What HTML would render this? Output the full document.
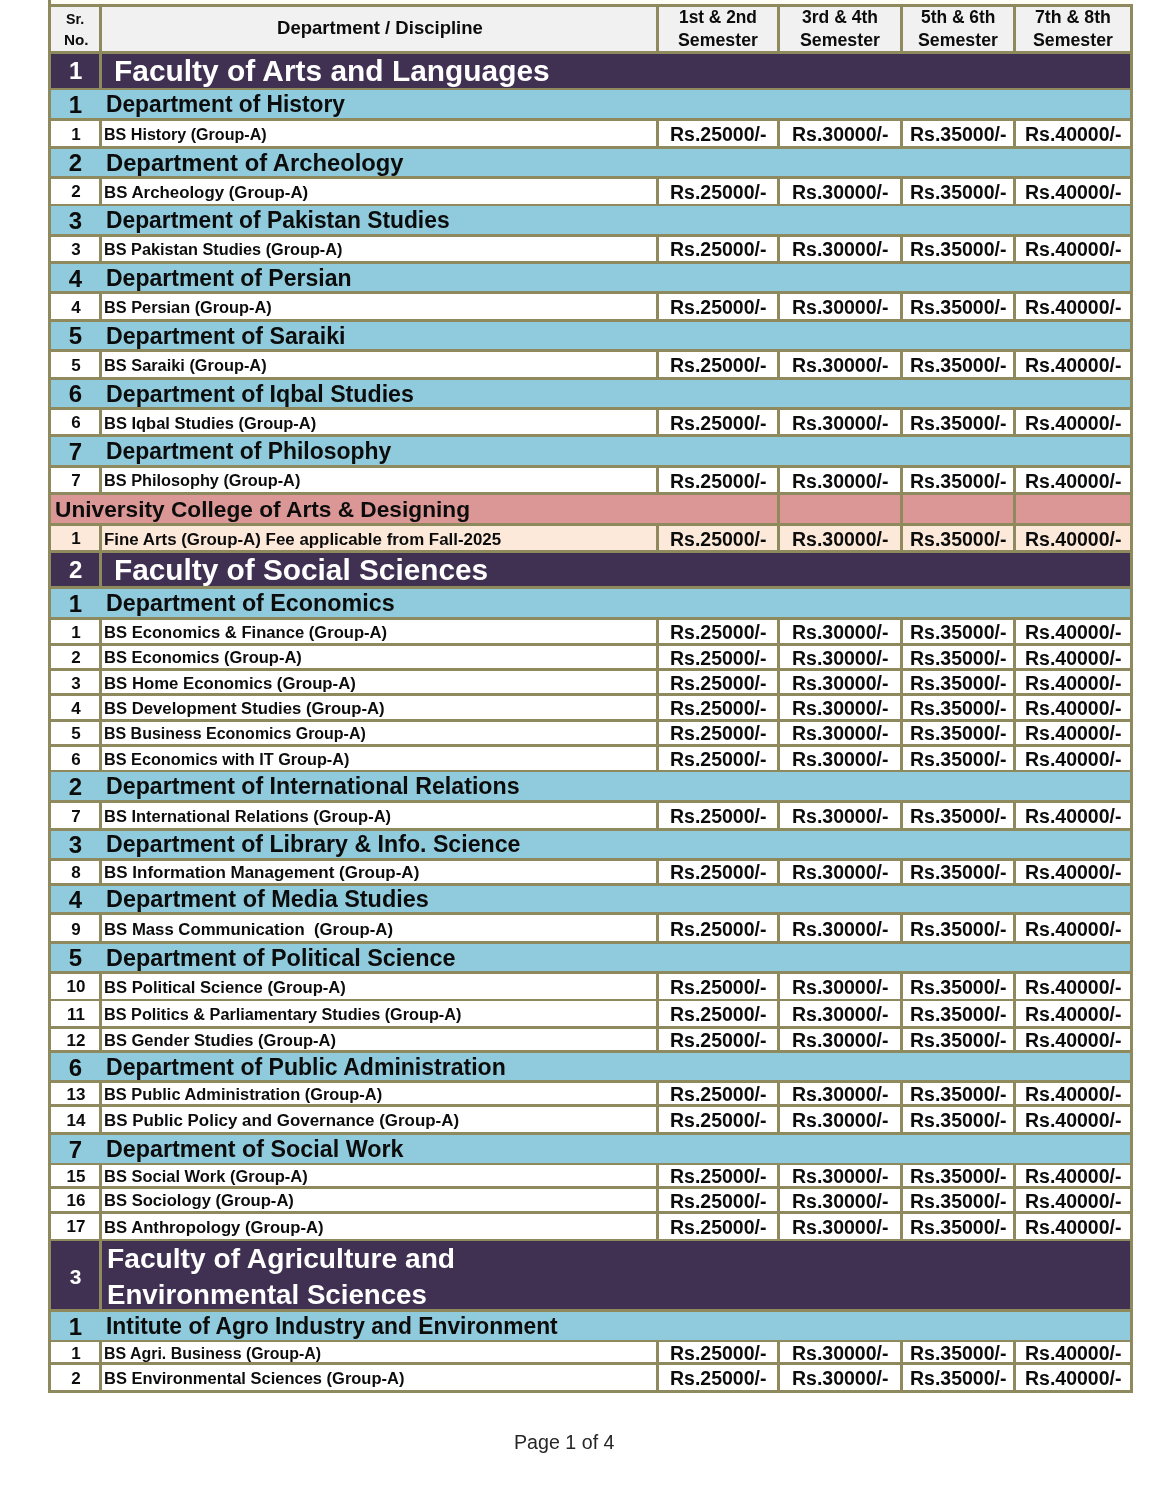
<!DOCTYPE html>
<html lang="en"><head><meta charset="utf-8"><title>Fee Structure - Page 1 of 4</title>
<style>
html,body{margin:0;padding:0;background:#fff}
#pg{position:relative;width:1170px;height:1489px;overflow:hidden;background:#fff;font-family:"Liberation Sans",sans-serif;font-weight:700}
.r{position:absolute}
.t{position:absolute;white-space:pre;transform-origin:0 50%}
</style></head><body><div id="pg">
<div class="r" style="left:51.15px;top:0.00px;width:1081.60px;height:5.20px;background:#fffef6"></div>
<div class="r" style="left:48.05px;top:3.65px;width:1084.90px;height:1389.20px;background:#8f8a5e"></div>
<div class="r" style="left:48.05px;top:0.00px;width:3.10px;height:5.20px;background:#8f8a5e"></div>
<div class="r" style="left:51.15px;top:6.65px;width:47.70px;height:44.20px;background:#f1f1f1"></div>
<div class="r" style="left:101.75px;top:6.65px;width:554.60px;height:44.20px;background:#f1f1f1"></div>
<div class="r" style="left:659.25px;top:6.65px;width:117.60px;height:44.20px;background:#f1f1f1"></div>
<div class="r" style="left:779.75px;top:6.65px;width:120.20px;height:44.20px;background:#f1f1f1"></div>
<div class="r" style="left:902.85px;top:6.65px;width:110.30px;height:44.20px;background:#f1f1f1"></div>
<div class="r" style="left:1016.05px;top:6.65px;width:113.80px;height:44.20px;background:#f1f1f1"></div>
<div class="t " style="left:66.10px;top:9.73px;font-size:15.5px;line-height:18.60px;color:#0c0c0c;transform:scaleX(0.9182)">Sr.</div>
<div class="t " style="left:63.50px;top:30.53px;font-size:15.5px;line-height:18.60px;color:#0c0c0c;transform:scaleX(0.9853)">No.</div>
<div class="t " style="left:276.50px;top:18.35px;font-size:17.7px;line-height:21.24px;color:#0c0c0c;transform:scaleX(1.0472)">Department / Discipline</div>
<div class="t " style="left:679.05px;top:7.15px;font-size:17.7px;line-height:21.24px;color:#0c0c0c;transform:scaleX(0.9791)">1st &amp; 2nd</div>
<div class="t " style="left:678.05px;top:30.35px;font-size:17.7px;line-height:21.24px;color:#0c0c0c;transform:scaleX(1.0037)">Semester</div>
<div class="t " style="left:801.85px;top:7.15px;font-size:17.7px;line-height:21.24px;color:#0c0c0c;transform:scaleX(0.9907)">3rd &amp; 4th</div>
<div class="t " style="left:799.85px;top:30.35px;font-size:17.7px;line-height:21.24px;color:#0c0c0c;transform:scaleX(1.0037)">Semester</div>
<div class="t " style="left:920.75px;top:7.15px;font-size:17.7px;line-height:21.24px;color:#0c0c0c;transform:scaleX(0.9839)">5th &amp; 6th</div>
<div class="t " style="left:918.00px;top:30.35px;font-size:17.7px;line-height:21.24px;color:#0c0c0c;transform:scaleX(1.0037)">Semester</div>
<div class="t " style="left:1034.95px;top:7.15px;font-size:17.7px;line-height:21.24px;color:#0c0c0c;transform:scaleX(1.0037)">7th &amp; 8th</div>
<div class="t " style="left:1032.95px;top:30.35px;font-size:17.7px;line-height:21.24px;color:#0c0c0c;transform:scaleX(1.0037)">Semester</div>
<div class="r" style="left:51.15px;top:53.75px;width:47.70px;height:33.80px;background:#403152"></div>
<div class="r" style="left:101.75px;top:53.75px;width:1028.10px;height:33.80px;background:#403152"></div>
<div class="t " style="left:68.93px;top:57.29px;font-size:24px;line-height:28.80px;color:#fff;transform:scaleX(1.0000)">1</div>
<div class="t " style="left:113.90px;top:53.40px;font-size:29.8px;line-height:35.76px;color:#fff;transform:scaleX(1.0031)">Faculty of Arts and Languages</div>
<div class="r" style="left:51.15px;top:90.45px;width:1078.70px;height:27.40px;background:#8fcbdc"></div>
<div class="t " style="left:68.63px;top:91.09px;font-size:24px;line-height:28.80px;color:#0c0c0c;transform:scaleX(1.0000)">1</div>
<div class="t " style="left:105.80px;top:91.39px;font-size:23px;line-height:27.60px;color:#0c0c0c;transform:scaleX(0.9895)">Department of History</div>
<div class="r" style="left:51.15px;top:120.75px;width:47.70px;height:25.10px;background:#ffffff"></div>
<div class="r" style="left:101.75px;top:120.75px;width:554.60px;height:25.10px;background:#ffffff"></div>
<div class="r" style="left:659.25px;top:120.75px;width:117.60px;height:25.10px;background:#ffffff"></div>
<div class="r" style="left:779.75px;top:120.75px;width:120.20px;height:25.10px;background:#ffffff"></div>
<div class="r" style="left:902.85px;top:120.75px;width:110.30px;height:25.10px;background:#ffffff"></div>
<div class="r" style="left:1016.05px;top:120.75px;width:113.80px;height:25.10px;background:#ffffff"></div>
<div class="t " style="left:71.27px;top:124.56px;font-size:17.0px;line-height:20.40px;color:#0c0c0c;transform:scaleX(1.0000)">1</div>
<div class="t " style="left:104.40px;top:124.76px;font-size:16.0px;line-height:19.20px;color:#0c0c0c;transform:scaleX(1.0051)">BS History (Group-A)</div>
<div class="t " style="left:670.10px;top:122.89px;font-size:19.6px;line-height:23.52px;color:#0c0c0c;transform:scaleX(0.9951)">Rs.25000/-</div>
<div class="t " style="left:791.90px;top:122.89px;font-size:19.6px;line-height:23.52px;color:#0c0c0c;transform:scaleX(0.9951)">Rs.30000/-</div>
<div class="t " style="left:910.05px;top:122.89px;font-size:19.6px;line-height:23.52px;color:#0c0c0c;transform:scaleX(0.9951)">Rs.35000/-</div>
<div class="t " style="left:1025.00px;top:122.89px;font-size:19.6px;line-height:23.52px;color:#0c0c0c;transform:scaleX(0.9951)">Rs.40000/-</div>
<div class="r" style="left:51.15px;top:148.75px;width:1078.70px;height:27.20px;background:#8fcbdc"></div>
<div class="t " style="left:68.63px;top:149.29px;font-size:24px;line-height:28.80px;color:#0c0c0c;transform:scaleX(1.0000)">2</div>
<div class="t " style="left:105.80px;top:149.59px;font-size:23px;line-height:27.60px;color:#0c0c0c;transform:scaleX(1.0331)">Department of Archeology</div>
<div class="r" style="left:51.15px;top:178.85px;width:47.70px;height:24.70px;background:#ffffff"></div>
<div class="r" style="left:101.75px;top:178.85px;width:554.60px;height:24.70px;background:#ffffff"></div>
<div class="r" style="left:659.25px;top:178.85px;width:117.60px;height:24.70px;background:#ffffff"></div>
<div class="r" style="left:779.75px;top:178.85px;width:120.20px;height:24.70px;background:#ffffff"></div>
<div class="r" style="left:902.85px;top:178.85px;width:110.30px;height:24.70px;background:#ffffff"></div>
<div class="r" style="left:1016.05px;top:178.85px;width:113.80px;height:24.70px;background:#ffffff"></div>
<div class="t " style="left:71.27px;top:182.46px;font-size:17.0px;line-height:20.40px;color:#0c0c0c;transform:scaleX(1.0000)">2</div>
<div class="t " style="left:104.40px;top:182.66px;font-size:16.0px;line-height:19.20px;color:#0c0c0c;transform:scaleX(1.0522)">BS Archeology (Group-A)</div>
<div class="t " style="left:670.10px;top:180.79px;font-size:19.6px;line-height:23.52px;color:#0c0c0c;transform:scaleX(0.9951)">Rs.25000/-</div>
<div class="t " style="left:791.90px;top:180.79px;font-size:19.6px;line-height:23.52px;color:#0c0c0c;transform:scaleX(0.9951)">Rs.30000/-</div>
<div class="t " style="left:910.05px;top:180.79px;font-size:19.6px;line-height:23.52px;color:#0c0c0c;transform:scaleX(0.9951)">Rs.35000/-</div>
<div class="t " style="left:1025.00px;top:180.79px;font-size:19.6px;line-height:23.52px;color:#0c0c0c;transform:scaleX(0.9951)">Rs.40000/-</div>
<div class="r" style="left:51.15px;top:206.45px;width:1078.70px;height:27.20px;background:#8fcbdc"></div>
<div class="t " style="left:68.63px;top:206.99px;font-size:24px;line-height:28.80px;color:#0c0c0c;transform:scaleX(1.0000)">3</div>
<div class="t " style="left:105.80px;top:207.29px;font-size:23px;line-height:27.60px;color:#0c0c0c;transform:scaleX(0.9920)">Department of Pakistan Studies</div>
<div class="r" style="left:51.15px;top:236.55px;width:47.70px;height:24.50px;background:#ffffff"></div>
<div class="r" style="left:101.75px;top:236.55px;width:554.60px;height:24.50px;background:#ffffff"></div>
<div class="r" style="left:659.25px;top:236.55px;width:117.60px;height:24.50px;background:#ffffff"></div>
<div class="r" style="left:779.75px;top:236.55px;width:120.20px;height:24.50px;background:#ffffff"></div>
<div class="r" style="left:902.85px;top:236.55px;width:110.30px;height:24.50px;background:#ffffff"></div>
<div class="r" style="left:1016.05px;top:236.55px;width:113.80px;height:24.50px;background:#ffffff"></div>
<div class="t " style="left:71.27px;top:240.06px;font-size:17.0px;line-height:20.40px;color:#0c0c0c;transform:scaleX(1.0000)">3</div>
<div class="t " style="left:104.40px;top:240.26px;font-size:16.0px;line-height:19.20px;color:#0c0c0c;transform:scaleX(1.0158)">BS Pakistan Studies (Group-A)</div>
<div class="t " style="left:670.10px;top:238.39px;font-size:19.6px;line-height:23.52px;color:#0c0c0c;transform:scaleX(0.9951)">Rs.25000/-</div>
<div class="t " style="left:791.90px;top:238.39px;font-size:19.6px;line-height:23.52px;color:#0c0c0c;transform:scaleX(0.9951)">Rs.30000/-</div>
<div class="t " style="left:910.05px;top:238.39px;font-size:19.6px;line-height:23.52px;color:#0c0c0c;transform:scaleX(0.9951)">Rs.35000/-</div>
<div class="t " style="left:1025.00px;top:238.39px;font-size:19.6px;line-height:23.52px;color:#0c0c0c;transform:scaleX(0.9951)">Rs.40000/-</div>
<div class="r" style="left:51.15px;top:263.95px;width:1078.70px;height:27.50px;background:#8fcbdc"></div>
<div class="t " style="left:68.63px;top:264.64px;font-size:24px;line-height:28.80px;color:#0c0c0c;transform:scaleX(1.0000)">4</div>
<div class="t " style="left:105.80px;top:264.94px;font-size:23px;line-height:27.60px;color:#0c0c0c;transform:scaleX(1.0004)">Department of Persian</div>
<div class="r" style="left:51.15px;top:294.35px;width:47.70px;height:24.40px;background:#ffffff"></div>
<div class="r" style="left:101.75px;top:294.35px;width:554.60px;height:24.40px;background:#ffffff"></div>
<div class="r" style="left:659.25px;top:294.35px;width:117.60px;height:24.40px;background:#ffffff"></div>
<div class="r" style="left:779.75px;top:294.35px;width:120.20px;height:24.40px;background:#ffffff"></div>
<div class="r" style="left:902.85px;top:294.35px;width:110.30px;height:24.40px;background:#ffffff"></div>
<div class="r" style="left:1016.05px;top:294.35px;width:113.80px;height:24.40px;background:#ffffff"></div>
<div class="t " style="left:71.27px;top:297.81px;font-size:17.0px;line-height:20.40px;color:#0c0c0c;transform:scaleX(1.0000)">4</div>
<div class="t " style="left:104.40px;top:298.01px;font-size:16.0px;line-height:19.20px;color:#0c0c0c;transform:scaleX(1.0191)">BS Persian (Group-A)</div>
<div class="t " style="left:670.10px;top:296.14px;font-size:19.6px;line-height:23.52px;color:#0c0c0c;transform:scaleX(0.9951)">Rs.25000/-</div>
<div class="t " style="left:791.90px;top:296.14px;font-size:19.6px;line-height:23.52px;color:#0c0c0c;transform:scaleX(0.9951)">Rs.30000/-</div>
<div class="t " style="left:910.05px;top:296.14px;font-size:19.6px;line-height:23.52px;color:#0c0c0c;transform:scaleX(0.9951)">Rs.35000/-</div>
<div class="t " style="left:1025.00px;top:296.14px;font-size:19.6px;line-height:23.52px;color:#0c0c0c;transform:scaleX(0.9951)">Rs.40000/-</div>
<div class="r" style="left:51.15px;top:321.65px;width:1078.70px;height:27.60px;background:#8fcbdc"></div>
<div class="t " style="left:68.63px;top:322.39px;font-size:24px;line-height:28.80px;color:#0c0c0c;transform:scaleX(1.0000)">5</div>
<div class="t " style="left:105.80px;top:322.69px;font-size:23px;line-height:27.60px;color:#0c0c0c;transform:scaleX(1.0074)">Department of Saraiki</div>
<div class="r" style="left:51.15px;top:352.15px;width:47.70px;height:24.50px;background:#ffffff"></div>
<div class="r" style="left:101.75px;top:352.15px;width:554.60px;height:24.50px;background:#ffffff"></div>
<div class="r" style="left:659.25px;top:352.15px;width:117.60px;height:24.50px;background:#ffffff"></div>
<div class="r" style="left:779.75px;top:352.15px;width:120.20px;height:24.50px;background:#ffffff"></div>
<div class="r" style="left:902.85px;top:352.15px;width:110.30px;height:24.50px;background:#ffffff"></div>
<div class="r" style="left:1016.05px;top:352.15px;width:113.80px;height:24.50px;background:#ffffff"></div>
<div class="t " style="left:71.27px;top:355.66px;font-size:17.0px;line-height:20.40px;color:#0c0c0c;transform:scaleX(1.0000)">5</div>
<div class="t " style="left:104.40px;top:355.86px;font-size:16.0px;line-height:19.20px;color:#0c0c0c;transform:scaleX(1.0218)">BS Saraiki (Group-A)</div>
<div class="t " style="left:670.10px;top:353.99px;font-size:19.6px;line-height:23.52px;color:#0c0c0c;transform:scaleX(0.9951)">Rs.25000/-</div>
<div class="t " style="left:791.90px;top:353.99px;font-size:19.6px;line-height:23.52px;color:#0c0c0c;transform:scaleX(0.9951)">Rs.30000/-</div>
<div class="t " style="left:910.05px;top:353.99px;font-size:19.6px;line-height:23.52px;color:#0c0c0c;transform:scaleX(0.9951)">Rs.35000/-</div>
<div class="t " style="left:1025.00px;top:353.99px;font-size:19.6px;line-height:23.52px;color:#0c0c0c;transform:scaleX(0.9951)">Rs.40000/-</div>
<div class="r" style="left:51.15px;top:379.55px;width:1078.70px;height:27.50px;background:#8fcbdc"></div>
<div class="t " style="left:68.63px;top:380.24px;font-size:24px;line-height:28.80px;color:#0c0c0c;transform:scaleX(1.0000)">6</div>
<div class="t " style="left:105.80px;top:380.54px;font-size:23px;line-height:27.60px;color:#0c0c0c;transform:scaleX(1.0081)">Department of Iqbal Studies</div>
<div class="r" style="left:51.15px;top:409.95px;width:47.70px;height:24.40px;background:#ffffff"></div>
<div class="r" style="left:101.75px;top:409.95px;width:554.60px;height:24.40px;background:#ffffff"></div>
<div class="r" style="left:659.25px;top:409.95px;width:117.60px;height:24.40px;background:#ffffff"></div>
<div class="r" style="left:779.75px;top:409.95px;width:120.20px;height:24.40px;background:#ffffff"></div>
<div class="r" style="left:902.85px;top:409.95px;width:110.30px;height:24.40px;background:#ffffff"></div>
<div class="r" style="left:1016.05px;top:409.95px;width:113.80px;height:24.40px;background:#ffffff"></div>
<div class="t " style="left:71.27px;top:413.41px;font-size:17.0px;line-height:20.40px;color:#0c0c0c;transform:scaleX(1.0000)">6</div>
<div class="t " style="left:104.40px;top:413.61px;font-size:16.0px;line-height:19.20px;color:#0c0c0c;transform:scaleX(1.0290)">BS Iqbal Studies (Group-A)</div>
<div class="t " style="left:670.10px;top:411.74px;font-size:19.6px;line-height:23.52px;color:#0c0c0c;transform:scaleX(0.9951)">Rs.25000/-</div>
<div class="t " style="left:791.90px;top:411.74px;font-size:19.6px;line-height:23.52px;color:#0c0c0c;transform:scaleX(0.9951)">Rs.30000/-</div>
<div class="t " style="left:910.05px;top:411.74px;font-size:19.6px;line-height:23.52px;color:#0c0c0c;transform:scaleX(0.9951)">Rs.35000/-</div>
<div class="t " style="left:1025.00px;top:411.74px;font-size:19.6px;line-height:23.52px;color:#0c0c0c;transform:scaleX(0.9951)">Rs.40000/-</div>
<div class="r" style="left:51.15px;top:437.25px;width:1078.70px;height:27.60px;background:#8fcbdc"></div>
<div class="t " style="left:68.63px;top:437.99px;font-size:24px;line-height:28.80px;color:#0c0c0c;transform:scaleX(1.0000)">7</div>
<div class="t " style="left:105.80px;top:438.29px;font-size:23px;line-height:27.60px;color:#0c0c0c;transform:scaleX(0.9964)">Department of Philosophy</div>
<div class="r" style="left:51.15px;top:467.75px;width:47.70px;height:24.50px;background:#ffffff"></div>
<div class="r" style="left:101.75px;top:467.75px;width:554.60px;height:24.50px;background:#ffffff"></div>
<div class="r" style="left:659.25px;top:467.75px;width:117.60px;height:24.50px;background:#ffffff"></div>
<div class="r" style="left:779.75px;top:467.75px;width:120.20px;height:24.50px;background:#ffffff"></div>
<div class="r" style="left:902.85px;top:467.75px;width:110.30px;height:24.50px;background:#ffffff"></div>
<div class="r" style="left:1016.05px;top:467.75px;width:113.80px;height:24.50px;background:#ffffff"></div>
<div class="t " style="left:71.27px;top:471.26px;font-size:17.0px;line-height:20.40px;color:#0c0c0c;transform:scaleX(1.0000)">7</div>
<div class="t " style="left:104.40px;top:471.46px;font-size:16.0px;line-height:19.20px;color:#0c0c0c;transform:scaleX(1.0178)">BS Philosophy (Group-A)</div>
<div class="t " style="left:670.10px;top:469.59px;font-size:19.6px;line-height:23.52px;color:#0c0c0c;transform:scaleX(0.9951)">Rs.25000/-</div>
<div class="t " style="left:791.90px;top:469.59px;font-size:19.6px;line-height:23.52px;color:#0c0c0c;transform:scaleX(0.9951)">Rs.30000/-</div>
<div class="t " style="left:910.05px;top:469.59px;font-size:19.6px;line-height:23.52px;color:#0c0c0c;transform:scaleX(0.9951)">Rs.35000/-</div>
<div class="t " style="left:1025.00px;top:469.59px;font-size:19.6px;line-height:23.52px;color:#0c0c0c;transform:scaleX(0.9951)">Rs.40000/-</div>
<div class="r" style="left:51.15px;top:495.15px;width:725.70px;height:28.00px;background:#da9795"></div>
<div class="r" style="left:779.75px;top:495.15px;width:120.20px;height:28.00px;background:#da9795"></div>
<div class="r" style="left:902.85px;top:495.15px;width:110.30px;height:28.00px;background:#da9795"></div>
<div class="r" style="left:1016.05px;top:495.15px;width:113.80px;height:28.00px;background:#da9795"></div>
<div class="t " style="left:55.20px;top:497.24px;font-size:21.6px;line-height:25.92px;color:#0c0c0c;transform:scaleX(1.0502)">University College of Arts &amp; Designing</div>
<div class="r" style="left:51.15px;top:526.05px;width:47.70px;height:24.20px;background:#fde9d9"></div>
<div class="r" style="left:101.75px;top:526.05px;width:554.60px;height:24.20px;background:#fde9d9"></div>
<div class="r" style="left:659.25px;top:526.05px;width:117.60px;height:24.20px;background:#fde9d9"></div>
<div class="r" style="left:779.75px;top:526.05px;width:120.20px;height:24.20px;background:#fde9d9"></div>
<div class="r" style="left:902.85px;top:526.05px;width:110.30px;height:24.20px;background:#fde9d9"></div>
<div class="r" style="left:1016.05px;top:526.05px;width:113.80px;height:24.20px;background:#fde9d9"></div>
<div class="t " style="left:71.27px;top:529.41px;font-size:17.0px;line-height:20.40px;color:#0c0c0c;transform:scaleX(1.0000)">1</div>
<div class="t " style="left:104.40px;top:529.61px;font-size:16.0px;line-height:19.20px;color:#0c0c0c;transform:scaleX(1.0551)">Fine Arts (Group-A) Fee applicable from Fall-2025</div>
<div class="t " style="left:670.10px;top:527.74px;font-size:19.6px;line-height:23.52px;color:#0c0c0c;transform:scaleX(0.9951)">Rs.25000/-</div>
<div class="t " style="left:791.90px;top:527.74px;font-size:19.6px;line-height:23.52px;color:#0c0c0c;transform:scaleX(0.9951)">Rs.30000/-</div>
<div class="t " style="left:910.05px;top:527.74px;font-size:19.6px;line-height:23.52px;color:#0c0c0c;transform:scaleX(0.9951)">Rs.35000/-</div>
<div class="t " style="left:1025.00px;top:527.74px;font-size:19.6px;line-height:23.52px;color:#0c0c0c;transform:scaleX(0.9951)">Rs.40000/-</div>
<div class="r" style="left:51.15px;top:553.15px;width:47.70px;height:33.10px;background:#403152"></div>
<div class="r" style="left:101.75px;top:553.15px;width:1028.10px;height:33.10px;background:#403152"></div>
<div class="t " style="left:68.93px;top:556.34px;font-size:24px;line-height:28.80px;color:#fff;transform:scaleX(1.0000)">2</div>
<div class="t " style="left:113.90px;top:552.45px;font-size:29.8px;line-height:35.76px;color:#fff;transform:scaleX(0.9997)">Faculty of Social Sciences</div>
<div class="r" style="left:51.15px;top:589.15px;width:1078.70px;height:28.10px;background:#8fcbdc"></div>
<div class="t " style="left:68.63px;top:590.14px;font-size:24px;line-height:28.80px;color:#0c0c0c;transform:scaleX(1.0000)">1</div>
<div class="t " style="left:105.80px;top:590.44px;font-size:23px;line-height:27.60px;color:#0c0c0c;transform:scaleX(1.0126)">Department of Economics</div>
<div class="r" style="left:51.15px;top:620.15px;width:47.70px;height:22.70px;background:#ffffff"></div>
<div class="r" style="left:101.75px;top:620.15px;width:554.60px;height:22.70px;background:#ffffff"></div>
<div class="r" style="left:659.25px;top:620.15px;width:117.60px;height:22.70px;background:#ffffff"></div>
<div class="r" style="left:779.75px;top:620.15px;width:120.20px;height:22.70px;background:#ffffff"></div>
<div class="r" style="left:902.85px;top:620.15px;width:110.30px;height:22.70px;background:#ffffff"></div>
<div class="r" style="left:1016.05px;top:620.15px;width:113.80px;height:22.70px;background:#ffffff"></div>
<div class="t " style="left:71.27px;top:622.76px;font-size:17.0px;line-height:20.40px;color:#0c0c0c;transform:scaleX(1.0000)">1</div>
<div class="t " style="left:104.40px;top:622.96px;font-size:16.0px;line-height:19.20px;color:#0c0c0c;transform:scaleX(1.0373)">BS Economics &amp; Finance (Group-A)</div>
<div class="t " style="left:670.10px;top:621.09px;font-size:19.6px;line-height:23.52px;color:#0c0c0c;transform:scaleX(0.9951)">Rs.25000/-</div>
<div class="t " style="left:791.90px;top:621.09px;font-size:19.6px;line-height:23.52px;color:#0c0c0c;transform:scaleX(0.9951)">Rs.30000/-</div>
<div class="t " style="left:910.05px;top:621.09px;font-size:19.6px;line-height:23.52px;color:#0c0c0c;transform:scaleX(0.9951)">Rs.35000/-</div>
<div class="t " style="left:1025.00px;top:621.09px;font-size:19.6px;line-height:23.52px;color:#0c0c0c;transform:scaleX(0.9951)">Rs.40000/-</div>
<div class="r" style="left:51.15px;top:645.75px;width:47.70px;height:22.40px;background:#ffffff"></div>
<div class="r" style="left:101.75px;top:645.75px;width:554.60px;height:22.40px;background:#ffffff"></div>
<div class="r" style="left:659.25px;top:645.75px;width:117.60px;height:22.40px;background:#ffffff"></div>
<div class="r" style="left:779.75px;top:645.75px;width:120.20px;height:22.40px;background:#ffffff"></div>
<div class="r" style="left:902.85px;top:645.75px;width:110.30px;height:22.40px;background:#ffffff"></div>
<div class="r" style="left:1016.05px;top:645.75px;width:113.80px;height:22.40px;background:#ffffff"></div>
<div class="t " style="left:71.27px;top:648.21px;font-size:17.0px;line-height:20.40px;color:#0c0c0c;transform:scaleX(1.0000)">2</div>
<div class="t " style="left:104.40px;top:648.41px;font-size:16.0px;line-height:19.20px;color:#0c0c0c;transform:scaleX(1.0302)">BS Economics (Group-A)</div>
<div class="t " style="left:670.10px;top:646.54px;font-size:19.6px;line-height:23.52px;color:#0c0c0c;transform:scaleX(0.9951)">Rs.25000/-</div>
<div class="t " style="left:791.90px;top:646.54px;font-size:19.6px;line-height:23.52px;color:#0c0c0c;transform:scaleX(0.9951)">Rs.30000/-</div>
<div class="t " style="left:910.05px;top:646.54px;font-size:19.6px;line-height:23.52px;color:#0c0c0c;transform:scaleX(0.9951)">Rs.35000/-</div>
<div class="t " style="left:1025.00px;top:646.54px;font-size:19.6px;line-height:23.52px;color:#0c0c0c;transform:scaleX(0.9951)">Rs.40000/-</div>
<div class="r" style="left:51.15px;top:671.05px;width:47.70px;height:22.40px;background:#ffffff"></div>
<div class="r" style="left:101.75px;top:671.05px;width:554.60px;height:22.40px;background:#ffffff"></div>
<div class="r" style="left:659.25px;top:671.05px;width:117.60px;height:22.40px;background:#ffffff"></div>
<div class="r" style="left:779.75px;top:671.05px;width:120.20px;height:22.40px;background:#ffffff"></div>
<div class="r" style="left:902.85px;top:671.05px;width:110.30px;height:22.40px;background:#ffffff"></div>
<div class="r" style="left:1016.05px;top:671.05px;width:113.80px;height:22.40px;background:#ffffff"></div>
<div class="t " style="left:71.27px;top:673.51px;font-size:17.0px;line-height:20.40px;color:#0c0c0c;transform:scaleX(1.0000)">3</div>
<div class="t " style="left:104.40px;top:673.71px;font-size:16.0px;line-height:19.20px;color:#0c0c0c;transform:scaleX(1.0452)">BS Home Economics (Group-A)</div>
<div class="t " style="left:670.10px;top:671.84px;font-size:19.6px;line-height:23.52px;color:#0c0c0c;transform:scaleX(0.9951)">Rs.25000/-</div>
<div class="t " style="left:791.90px;top:671.84px;font-size:19.6px;line-height:23.52px;color:#0c0c0c;transform:scaleX(0.9951)">Rs.30000/-</div>
<div class="t " style="left:910.05px;top:671.84px;font-size:19.6px;line-height:23.52px;color:#0c0c0c;transform:scaleX(0.9951)">Rs.35000/-</div>
<div class="t " style="left:1025.00px;top:671.84px;font-size:19.6px;line-height:23.52px;color:#0c0c0c;transform:scaleX(0.9951)">Rs.40000/-</div>
<div class="r" style="left:51.15px;top:696.35px;width:47.70px;height:22.40px;background:#ffffff"></div>
<div class="r" style="left:101.75px;top:696.35px;width:554.60px;height:22.40px;background:#ffffff"></div>
<div class="r" style="left:659.25px;top:696.35px;width:117.60px;height:22.40px;background:#ffffff"></div>
<div class="r" style="left:779.75px;top:696.35px;width:120.20px;height:22.40px;background:#ffffff"></div>
<div class="r" style="left:902.85px;top:696.35px;width:110.30px;height:22.40px;background:#ffffff"></div>
<div class="r" style="left:1016.05px;top:696.35px;width:113.80px;height:22.40px;background:#ffffff"></div>
<div class="t " style="left:71.27px;top:698.81px;font-size:17.0px;line-height:20.40px;color:#0c0c0c;transform:scaleX(1.0000)">4</div>
<div class="t " style="left:104.40px;top:699.01px;font-size:16.0px;line-height:19.20px;color:#0c0c0c;transform:scaleX(1.0418)">BS Development Studies (Group-A)</div>
<div class="t " style="left:670.10px;top:697.14px;font-size:19.6px;line-height:23.52px;color:#0c0c0c;transform:scaleX(0.9951)">Rs.25000/-</div>
<div class="t " style="left:791.90px;top:697.14px;font-size:19.6px;line-height:23.52px;color:#0c0c0c;transform:scaleX(0.9951)">Rs.30000/-</div>
<div class="t " style="left:910.05px;top:697.14px;font-size:19.6px;line-height:23.52px;color:#0c0c0c;transform:scaleX(0.9951)">Rs.35000/-</div>
<div class="t " style="left:1025.00px;top:697.14px;font-size:19.6px;line-height:23.52px;color:#0c0c0c;transform:scaleX(0.9951)">Rs.40000/-</div>
<div class="r" style="left:51.15px;top:721.65px;width:47.70px;height:22.40px;background:#ffffff"></div>
<div class="r" style="left:101.75px;top:721.65px;width:554.60px;height:22.40px;background:#ffffff"></div>
<div class="r" style="left:659.25px;top:721.65px;width:117.60px;height:22.40px;background:#ffffff"></div>
<div class="r" style="left:779.75px;top:721.65px;width:120.20px;height:22.40px;background:#ffffff"></div>
<div class="r" style="left:902.85px;top:721.65px;width:110.30px;height:22.40px;background:#ffffff"></div>
<div class="r" style="left:1016.05px;top:721.65px;width:113.80px;height:22.40px;background:#ffffff"></div>
<div class="t " style="left:71.27px;top:724.11px;font-size:17.0px;line-height:20.40px;color:#0c0c0c;transform:scaleX(1.0000)">5</div>
<div class="t " style="left:104.40px;top:724.31px;font-size:16.0px;line-height:19.20px;color:#0c0c0c;transform:scaleX(0.9982)">BS Business Economics Group-A)</div>
<div class="t " style="left:670.10px;top:722.44px;font-size:19.6px;line-height:23.52px;color:#0c0c0c;transform:scaleX(0.9951)">Rs.25000/-</div>
<div class="t " style="left:791.90px;top:722.44px;font-size:19.6px;line-height:23.52px;color:#0c0c0c;transform:scaleX(0.9951)">Rs.30000/-</div>
<div class="t " style="left:910.05px;top:722.44px;font-size:19.6px;line-height:23.52px;color:#0c0c0c;transform:scaleX(0.9951)">Rs.35000/-</div>
<div class="t " style="left:1025.00px;top:722.44px;font-size:19.6px;line-height:23.52px;color:#0c0c0c;transform:scaleX(0.9951)">Rs.40000/-</div>
<div class="r" style="left:51.15px;top:746.95px;width:47.70px;height:22.60px;background:#ffffff"></div>
<div class="r" style="left:101.75px;top:746.95px;width:554.60px;height:22.60px;background:#ffffff"></div>
<div class="r" style="left:659.25px;top:746.95px;width:117.60px;height:22.60px;background:#ffffff"></div>
<div class="r" style="left:779.75px;top:746.95px;width:120.20px;height:22.60px;background:#ffffff"></div>
<div class="r" style="left:902.85px;top:746.95px;width:110.30px;height:22.60px;background:#ffffff"></div>
<div class="r" style="left:1016.05px;top:746.95px;width:113.80px;height:22.60px;background:#ffffff"></div>
<div class="t " style="left:71.27px;top:749.51px;font-size:17.0px;line-height:20.40px;color:#0c0c0c;transform:scaleX(1.0000)">6</div>
<div class="t " style="left:104.40px;top:749.71px;font-size:16.0px;line-height:19.20px;color:#0c0c0c;transform:scaleX(1.0150)">BS Economics with IT Group-A)</div>
<div class="t " style="left:670.10px;top:747.84px;font-size:19.6px;line-height:23.52px;color:#0c0c0c;transform:scaleX(0.9951)">Rs.25000/-</div>
<div class="t " style="left:791.90px;top:747.84px;font-size:19.6px;line-height:23.52px;color:#0c0c0c;transform:scaleX(0.9951)">Rs.30000/-</div>
<div class="t " style="left:910.05px;top:747.84px;font-size:19.6px;line-height:23.52px;color:#0c0c0c;transform:scaleX(0.9951)">Rs.35000/-</div>
<div class="t " style="left:1025.00px;top:747.84px;font-size:19.6px;line-height:23.52px;color:#0c0c0c;transform:scaleX(0.9951)">Rs.40000/-</div>
<div class="r" style="left:51.15px;top:772.45px;width:1078.70px;height:27.60px;background:#8fcbdc"></div>
<div class="t " style="left:68.63px;top:773.19px;font-size:24px;line-height:28.80px;color:#0c0c0c;transform:scaleX(1.0000)">2</div>
<div class="t " style="left:105.80px;top:773.49px;font-size:23px;line-height:27.60px;color:#0c0c0c;transform:scaleX(1.0082)">Department of International Relations</div>
<div class="r" style="left:51.15px;top:802.95px;width:47.70px;height:24.70px;background:#ffffff"></div>
<div class="r" style="left:101.75px;top:802.95px;width:554.60px;height:24.70px;background:#ffffff"></div>
<div class="r" style="left:659.25px;top:802.95px;width:117.60px;height:24.70px;background:#ffffff"></div>
<div class="r" style="left:779.75px;top:802.95px;width:120.20px;height:24.70px;background:#ffffff"></div>
<div class="r" style="left:902.85px;top:802.95px;width:110.30px;height:24.70px;background:#ffffff"></div>
<div class="r" style="left:1016.05px;top:802.95px;width:113.80px;height:24.70px;background:#ffffff"></div>
<div class="t " style="left:71.27px;top:806.56px;font-size:17.0px;line-height:20.40px;color:#0c0c0c;transform:scaleX(1.0000)">7</div>
<div class="t " style="left:104.40px;top:806.76px;font-size:16.0px;line-height:19.20px;color:#0c0c0c;transform:scaleX(1.0282)">BS International Relations (Group-A)</div>
<div class="t " style="left:670.10px;top:804.89px;font-size:19.6px;line-height:23.52px;color:#0c0c0c;transform:scaleX(0.9951)">Rs.25000/-</div>
<div class="t " style="left:791.90px;top:804.89px;font-size:19.6px;line-height:23.52px;color:#0c0c0c;transform:scaleX(0.9951)">Rs.30000/-</div>
<div class="t " style="left:910.05px;top:804.89px;font-size:19.6px;line-height:23.52px;color:#0c0c0c;transform:scaleX(0.9951)">Rs.35000/-</div>
<div class="t " style="left:1025.00px;top:804.89px;font-size:19.6px;line-height:23.52px;color:#0c0c0c;transform:scaleX(0.9951)">Rs.40000/-</div>
<div class="r" style="left:51.15px;top:830.55px;width:1078.70px;height:27.20px;background:#8fcbdc"></div>
<div class="t " style="left:68.63px;top:831.09px;font-size:24px;line-height:28.80px;color:#0c0c0c;transform:scaleX(1.0000)">3</div>
<div class="t " style="left:105.80px;top:831.39px;font-size:23px;line-height:27.60px;color:#0c0c0c;transform:scaleX(1.0072)">Department of Library &amp; Info. Science</div>
<div class="r" style="left:51.15px;top:860.65px;width:47.70px;height:22.40px;background:#ffffff"></div>
<div class="r" style="left:101.75px;top:860.65px;width:554.60px;height:22.40px;background:#ffffff"></div>
<div class="r" style="left:659.25px;top:860.65px;width:117.60px;height:22.40px;background:#ffffff"></div>
<div class="r" style="left:779.75px;top:860.65px;width:120.20px;height:22.40px;background:#ffffff"></div>
<div class="r" style="left:902.85px;top:860.65px;width:110.30px;height:22.40px;background:#ffffff"></div>
<div class="r" style="left:1016.05px;top:860.65px;width:113.80px;height:22.40px;background:#ffffff"></div>
<div class="t " style="left:71.27px;top:863.11px;font-size:17.0px;line-height:20.40px;color:#0c0c0c;transform:scaleX(1.0000)">8</div>
<div class="t " style="left:104.40px;top:863.31px;font-size:16.0px;line-height:19.20px;color:#0c0c0c;transform:scaleX(1.0620)">BS Information Management (Group-A)</div>
<div class="t " style="left:670.10px;top:861.44px;font-size:19.6px;line-height:23.52px;color:#0c0c0c;transform:scaleX(0.9951)">Rs.25000/-</div>
<div class="t " style="left:791.90px;top:861.44px;font-size:19.6px;line-height:23.52px;color:#0c0c0c;transform:scaleX(0.9951)">Rs.30000/-</div>
<div class="t " style="left:910.05px;top:861.44px;font-size:19.6px;line-height:23.52px;color:#0c0c0c;transform:scaleX(0.9951)">Rs.35000/-</div>
<div class="t " style="left:1025.00px;top:861.44px;font-size:19.6px;line-height:23.52px;color:#0c0c0c;transform:scaleX(0.9951)">Rs.40000/-</div>
<div class="r" style="left:51.15px;top:885.95px;width:1078.70px;height:26.50px;background:#8fcbdc"></div>
<div class="t " style="left:68.63px;top:886.14px;font-size:24px;line-height:28.80px;color:#0c0c0c;transform:scaleX(1.0000)">4</div>
<div class="t " style="left:105.80px;top:886.44px;font-size:23px;line-height:27.60px;color:#0c0c0c;transform:scaleX(1.0185)">Department of Media Studies</div>
<div class="r" style="left:51.15px;top:915.35px;width:47.70px;height:25.80px;background:#ffffff"></div>
<div class="r" style="left:101.75px;top:915.35px;width:554.60px;height:25.80px;background:#ffffff"></div>
<div class="r" style="left:659.25px;top:915.35px;width:117.60px;height:25.80px;background:#ffffff"></div>
<div class="r" style="left:779.75px;top:915.35px;width:120.20px;height:25.80px;background:#ffffff"></div>
<div class="r" style="left:902.85px;top:915.35px;width:110.30px;height:25.80px;background:#ffffff"></div>
<div class="r" style="left:1016.05px;top:915.35px;width:113.80px;height:25.80px;background:#ffffff"></div>
<div class="t " style="left:71.27px;top:919.51px;font-size:17.0px;line-height:20.40px;color:#0c0c0c;transform:scaleX(1.0000)">9</div>
<div class="t " style="left:104.40px;top:919.71px;font-size:16.0px;line-height:19.20px;color:#0c0c0c;transform:scaleX(1.0454)">BS Mass Communication  (Group-A)</div>
<div class="t " style="left:670.10px;top:917.84px;font-size:19.6px;line-height:23.52px;color:#0c0c0c;transform:scaleX(0.9951)">Rs.25000/-</div>
<div class="t " style="left:791.90px;top:917.84px;font-size:19.6px;line-height:23.52px;color:#0c0c0c;transform:scaleX(0.9951)">Rs.30000/-</div>
<div class="t " style="left:910.05px;top:917.84px;font-size:19.6px;line-height:23.52px;color:#0c0c0c;transform:scaleX(0.9951)">Rs.35000/-</div>
<div class="t " style="left:1025.00px;top:917.84px;font-size:19.6px;line-height:23.52px;color:#0c0c0c;transform:scaleX(0.9951)">Rs.40000/-</div>
<div class="r" style="left:51.15px;top:944.05px;width:1078.70px;height:26.90px;background:#8fcbdc"></div>
<div class="t " style="left:68.63px;top:944.44px;font-size:24px;line-height:28.80px;color:#0c0c0c;transform:scaleX(1.0000)">5</div>
<div class="t " style="left:105.80px;top:944.74px;font-size:23px;line-height:27.60px;color:#0c0c0c;transform:scaleX(1.0168)">Department of Political Science</div>
<div class="r" style="left:51.15px;top:973.85px;width:47.70px;height:24.70px;background:#ffffff"></div>
<div class="r" style="left:101.75px;top:973.85px;width:554.60px;height:24.70px;background:#ffffff"></div>
<div class="r" style="left:659.25px;top:973.85px;width:117.60px;height:24.70px;background:#ffffff"></div>
<div class="r" style="left:779.75px;top:973.85px;width:120.20px;height:24.70px;background:#ffffff"></div>
<div class="r" style="left:902.85px;top:973.85px;width:110.30px;height:24.70px;background:#ffffff"></div>
<div class="r" style="left:1016.05px;top:973.85px;width:113.80px;height:24.70px;background:#ffffff"></div>
<div class="t " style="left:66.55px;top:977.46px;font-size:17.0px;line-height:20.40px;color:#0c0c0c;transform:scaleX(1.0000)">10</div>
<div class="t " style="left:104.40px;top:977.66px;font-size:16.0px;line-height:19.20px;color:#0c0c0c;transform:scaleX(1.0385)">BS Political Science (Group-A)</div>
<div class="t " style="left:670.10px;top:975.79px;font-size:19.6px;line-height:23.52px;color:#0c0c0c;transform:scaleX(0.9951)">Rs.25000/-</div>
<div class="t " style="left:791.90px;top:975.79px;font-size:19.6px;line-height:23.52px;color:#0c0c0c;transform:scaleX(0.9951)">Rs.30000/-</div>
<div class="t " style="left:910.05px;top:975.79px;font-size:19.6px;line-height:23.52px;color:#0c0c0c;transform:scaleX(0.9951)">Rs.35000/-</div>
<div class="t " style="left:1025.00px;top:975.79px;font-size:19.6px;line-height:23.52px;color:#0c0c0c;transform:scaleX(0.9951)">Rs.40000/-</div>
<div class="r" style="left:51.15px;top:1001.45px;width:47.70px;height:24.50px;background:#ffffff"></div>
<div class="r" style="left:101.75px;top:1001.45px;width:554.60px;height:24.50px;background:#ffffff"></div>
<div class="r" style="left:659.25px;top:1001.45px;width:117.60px;height:24.50px;background:#ffffff"></div>
<div class="r" style="left:779.75px;top:1001.45px;width:120.20px;height:24.50px;background:#ffffff"></div>
<div class="r" style="left:902.85px;top:1001.45px;width:110.30px;height:24.50px;background:#ffffff"></div>
<div class="r" style="left:1016.05px;top:1001.45px;width:113.80px;height:24.50px;background:#ffffff"></div>
<div class="t " style="left:67.01px;top:1004.96px;font-size:17.0px;line-height:20.40px;color:#0c0c0c;transform:scaleX(1.0000)">11</div>
<div class="t " style="left:104.40px;top:1005.16px;font-size:16.0px;line-height:19.20px;color:#0c0c0c;transform:scaleX(1.0151)">BS Politics &amp; Parliamentary Studies (Group-A)</div>
<div class="t " style="left:670.10px;top:1003.29px;font-size:19.6px;line-height:23.52px;color:#0c0c0c;transform:scaleX(0.9951)">Rs.25000/-</div>
<div class="t " style="left:791.90px;top:1003.29px;font-size:19.6px;line-height:23.52px;color:#0c0c0c;transform:scaleX(0.9951)">Rs.30000/-</div>
<div class="t " style="left:910.05px;top:1003.29px;font-size:19.6px;line-height:23.52px;color:#0c0c0c;transform:scaleX(0.9951)">Rs.35000/-</div>
<div class="t " style="left:1025.00px;top:1003.29px;font-size:19.6px;line-height:23.52px;color:#0c0c0c;transform:scaleX(0.9951)">Rs.40000/-</div>
<div class="r" style="left:51.15px;top:1028.85px;width:47.70px;height:21.50px;background:#ffffff"></div>
<div class="r" style="left:101.75px;top:1028.85px;width:554.60px;height:21.50px;background:#ffffff"></div>
<div class="r" style="left:659.25px;top:1028.85px;width:117.60px;height:21.50px;background:#ffffff"></div>
<div class="r" style="left:779.75px;top:1028.85px;width:120.20px;height:21.50px;background:#ffffff"></div>
<div class="r" style="left:902.85px;top:1028.85px;width:110.30px;height:21.50px;background:#ffffff"></div>
<div class="r" style="left:1016.05px;top:1028.85px;width:113.80px;height:21.50px;background:#ffffff"></div>
<div class="t " style="left:66.55px;top:1030.86px;font-size:17.0px;line-height:20.40px;color:#0c0c0c;transform:scaleX(1.0000)">12</div>
<div class="t " style="left:104.40px;top:1031.06px;font-size:16.0px;line-height:19.20px;color:#0c0c0c;transform:scaleX(1.0316)">BS Gender Studies (Group-A)</div>
<div class="t " style="left:670.10px;top:1029.19px;font-size:19.6px;line-height:23.52px;color:#0c0c0c;transform:scaleX(0.9951)">Rs.25000/-</div>
<div class="t " style="left:791.90px;top:1029.19px;font-size:19.6px;line-height:23.52px;color:#0c0c0c;transform:scaleX(0.9951)">Rs.30000/-</div>
<div class="t " style="left:910.05px;top:1029.19px;font-size:19.6px;line-height:23.52px;color:#0c0c0c;transform:scaleX(0.9951)">Rs.35000/-</div>
<div class="t " style="left:1025.00px;top:1029.19px;font-size:19.6px;line-height:23.52px;color:#0c0c0c;transform:scaleX(0.9951)">Rs.40000/-</div>
<div class="r" style="left:51.15px;top:1053.25px;width:1078.70px;height:27.10px;background:#8fcbdc"></div>
<div class="t " style="left:68.63px;top:1053.74px;font-size:24px;line-height:28.80px;color:#0c0c0c;transform:scaleX(1.0000)">6</div>
<div class="t " style="left:105.80px;top:1054.04px;font-size:23px;line-height:27.60px;color:#0c0c0c;transform:scaleX(1.0015)">Department of Public Administration</div>
<div class="r" style="left:51.15px;top:1083.25px;width:47.70px;height:21.20px;background:#ffffff"></div>
<div class="r" style="left:101.75px;top:1083.25px;width:554.60px;height:21.20px;background:#ffffff"></div>
<div class="r" style="left:659.25px;top:1083.25px;width:117.60px;height:21.20px;background:#ffffff"></div>
<div class="r" style="left:779.75px;top:1083.25px;width:120.20px;height:21.20px;background:#ffffff"></div>
<div class="r" style="left:902.85px;top:1083.25px;width:110.30px;height:21.20px;background:#ffffff"></div>
<div class="r" style="left:1016.05px;top:1083.25px;width:113.80px;height:21.20px;background:#ffffff"></div>
<div class="t " style="left:66.55px;top:1085.11px;font-size:17.0px;line-height:20.40px;color:#0c0c0c;transform:scaleX(1.0000)">13</div>
<div class="t " style="left:104.40px;top:1085.31px;font-size:16.0px;line-height:19.20px;color:#0c0c0c;transform:scaleX(1.0247)">BS Public Administration (Group-A)</div>
<div class="t " style="left:670.10px;top:1083.44px;font-size:19.6px;line-height:23.52px;color:#0c0c0c;transform:scaleX(0.9951)">Rs.25000/-</div>
<div class="t " style="left:791.90px;top:1083.44px;font-size:19.6px;line-height:23.52px;color:#0c0c0c;transform:scaleX(0.9951)">Rs.30000/-</div>
<div class="t " style="left:910.05px;top:1083.44px;font-size:19.6px;line-height:23.52px;color:#0c0c0c;transform:scaleX(0.9951)">Rs.35000/-</div>
<div class="t " style="left:1025.00px;top:1083.44px;font-size:19.6px;line-height:23.52px;color:#0c0c0c;transform:scaleX(0.9951)">Rs.40000/-</div>
<div class="r" style="left:51.15px;top:1107.35px;width:47.70px;height:25.10px;background:#ffffff"></div>
<div class="r" style="left:101.75px;top:1107.35px;width:554.60px;height:25.10px;background:#ffffff"></div>
<div class="r" style="left:659.25px;top:1107.35px;width:117.60px;height:25.10px;background:#ffffff"></div>
<div class="r" style="left:779.75px;top:1107.35px;width:120.20px;height:25.10px;background:#ffffff"></div>
<div class="r" style="left:902.85px;top:1107.35px;width:110.30px;height:25.10px;background:#ffffff"></div>
<div class="r" style="left:1016.05px;top:1107.35px;width:113.80px;height:25.10px;background:#ffffff"></div>
<div class="t " style="left:66.55px;top:1111.16px;font-size:17.0px;line-height:20.40px;color:#0c0c0c;transform:scaleX(1.0000)">14</div>
<div class="t " style="left:104.40px;top:1111.36px;font-size:16.0px;line-height:19.20px;color:#0c0c0c;transform:scaleX(1.0564)">BS Public Policy and Governance (Group-A)</div>
<div class="t " style="left:670.10px;top:1109.49px;font-size:19.6px;line-height:23.52px;color:#0c0c0c;transform:scaleX(0.9951)">Rs.25000/-</div>
<div class="t " style="left:791.90px;top:1109.49px;font-size:19.6px;line-height:23.52px;color:#0c0c0c;transform:scaleX(0.9951)">Rs.30000/-</div>
<div class="t " style="left:910.05px;top:1109.49px;font-size:19.6px;line-height:23.52px;color:#0c0c0c;transform:scaleX(0.9951)">Rs.35000/-</div>
<div class="t " style="left:1025.00px;top:1109.49px;font-size:19.6px;line-height:23.52px;color:#0c0c0c;transform:scaleX(0.9951)">Rs.40000/-</div>
<div class="r" style="left:51.15px;top:1135.35px;width:1078.70px;height:27.20px;background:#8fcbdc"></div>
<div class="t " style="left:68.63px;top:1135.89px;font-size:24px;line-height:28.80px;color:#0c0c0c;transform:scaleX(1.0000)">7</div>
<div class="t " style="left:105.80px;top:1136.19px;font-size:23px;line-height:27.60px;color:#0c0c0c;transform:scaleX(1.0136)">Department of Social Work</div>
<div class="r" style="left:51.15px;top:1165.45px;width:47.70px;height:20.70px;background:#ffffff"></div>
<div class="r" style="left:101.75px;top:1165.45px;width:554.60px;height:20.70px;background:#ffffff"></div>
<div class="r" style="left:659.25px;top:1165.45px;width:117.60px;height:20.70px;background:#ffffff"></div>
<div class="r" style="left:779.75px;top:1165.45px;width:120.20px;height:20.70px;background:#ffffff"></div>
<div class="r" style="left:902.85px;top:1165.45px;width:110.30px;height:20.70px;background:#ffffff"></div>
<div class="r" style="left:1016.05px;top:1165.45px;width:113.80px;height:20.70px;background:#ffffff"></div>
<div class="t " style="left:66.55px;top:1167.06px;font-size:17.0px;line-height:20.40px;color:#0c0c0c;transform:scaleX(1.0000)">15</div>
<div class="t " style="left:104.40px;top:1167.26px;font-size:16.0px;line-height:19.20px;color:#0c0c0c;transform:scaleX(1.0291)">BS Social Work (Group-A)</div>
<div class="t " style="left:670.10px;top:1165.39px;font-size:19.6px;line-height:23.52px;color:#0c0c0c;transform:scaleX(0.9951)">Rs.25000/-</div>
<div class="t " style="left:791.90px;top:1165.39px;font-size:19.6px;line-height:23.52px;color:#0c0c0c;transform:scaleX(0.9951)">Rs.30000/-</div>
<div class="t " style="left:910.05px;top:1165.39px;font-size:19.6px;line-height:23.52px;color:#0c0c0c;transform:scaleX(0.9951)">Rs.35000/-</div>
<div class="t " style="left:1025.00px;top:1165.39px;font-size:19.6px;line-height:23.52px;color:#0c0c0c;transform:scaleX(0.9951)">Rs.40000/-</div>
<div class="r" style="left:51.15px;top:1189.05px;width:47.70px;height:21.90px;background:#ffffff"></div>
<div class="r" style="left:101.75px;top:1189.05px;width:554.60px;height:21.90px;background:#ffffff"></div>
<div class="r" style="left:659.25px;top:1189.05px;width:117.60px;height:21.90px;background:#ffffff"></div>
<div class="r" style="left:779.75px;top:1189.05px;width:120.20px;height:21.90px;background:#ffffff"></div>
<div class="r" style="left:902.85px;top:1189.05px;width:110.30px;height:21.90px;background:#ffffff"></div>
<div class="r" style="left:1016.05px;top:1189.05px;width:113.80px;height:21.90px;background:#ffffff"></div>
<div class="t " style="left:66.55px;top:1191.26px;font-size:17.0px;line-height:20.40px;color:#0c0c0c;transform:scaleX(1.0000)">16</div>
<div class="t " style="left:104.40px;top:1191.46px;font-size:16.0px;line-height:19.20px;color:#0c0c0c;transform:scaleX(1.0371)">BS Sociology (Group-A)</div>
<div class="t " style="left:670.10px;top:1189.59px;font-size:19.6px;line-height:23.52px;color:#0c0c0c;transform:scaleX(0.9951)">Rs.25000/-</div>
<div class="t " style="left:791.90px;top:1189.59px;font-size:19.6px;line-height:23.52px;color:#0c0c0c;transform:scaleX(0.9951)">Rs.30000/-</div>
<div class="t " style="left:910.05px;top:1189.59px;font-size:19.6px;line-height:23.52px;color:#0c0c0c;transform:scaleX(0.9951)">Rs.35000/-</div>
<div class="t " style="left:1025.00px;top:1189.59px;font-size:19.6px;line-height:23.52px;color:#0c0c0c;transform:scaleX(0.9951)">Rs.40000/-</div>
<div class="r" style="left:51.15px;top:1213.85px;width:47.70px;height:24.70px;background:#ffffff"></div>
<div class="r" style="left:101.75px;top:1213.85px;width:554.60px;height:24.70px;background:#ffffff"></div>
<div class="r" style="left:659.25px;top:1213.85px;width:117.60px;height:24.70px;background:#ffffff"></div>
<div class="r" style="left:779.75px;top:1213.85px;width:120.20px;height:24.70px;background:#ffffff"></div>
<div class="r" style="left:902.85px;top:1213.85px;width:110.30px;height:24.70px;background:#ffffff"></div>
<div class="r" style="left:1016.05px;top:1213.85px;width:113.80px;height:24.70px;background:#ffffff"></div>
<div class="t " style="left:66.55px;top:1217.46px;font-size:17.0px;line-height:20.40px;color:#0c0c0c;transform:scaleX(1.0000)">17</div>
<div class="t " style="left:104.40px;top:1217.66px;font-size:16.0px;line-height:19.20px;color:#0c0c0c;transform:scaleX(1.0411)">BS Anthropology (Group-A)</div>
<div class="t " style="left:670.10px;top:1215.79px;font-size:19.6px;line-height:23.52px;color:#0c0c0c;transform:scaleX(0.9951)">Rs.25000/-</div>
<div class="t " style="left:791.90px;top:1215.79px;font-size:19.6px;line-height:23.52px;color:#0c0c0c;transform:scaleX(0.9951)">Rs.30000/-</div>
<div class="t " style="left:910.05px;top:1215.79px;font-size:19.6px;line-height:23.52px;color:#0c0c0c;transform:scaleX(0.9951)">Rs.35000/-</div>
<div class="t " style="left:1025.00px;top:1215.79px;font-size:19.6px;line-height:23.52px;color:#0c0c0c;transform:scaleX(0.9951)">Rs.40000/-</div>
<div class="r" style="left:51.15px;top:1241.45px;width:47.70px;height:67.80px;background:#403152"></div>
<div class="r" style="left:101.75px;top:1241.45px;width:1028.10px;height:67.80px;background:#403152"></div>
<div class="t " style="left:69.76px;top:1264.12px;font-size:21px;line-height:25.20px;color:#fff;transform:scaleX(1.0000)">3</div>
<div class="t " style="left:107.30px;top:1243.16px;font-size:27.3px;line-height:32.76px;color:#fff;transform:scaleX(1.0322)">Faculty of Agriculture and</div>
<div class="t " style="left:107.30px;top:1278.86px;font-size:27.3px;line-height:32.76px;color:#fff;transform:scaleX(1.0137)">Environmental Sciences</div>
<div class="r" style="left:51.15px;top:1312.15px;width:1078.70px;height:27.40px;background:#8fcbdc"></div>
<div class="t " style="left:68.63px;top:1312.79px;font-size:24px;line-height:28.80px;color:#0c0c0c;transform:scaleX(1.0000)">1</div>
<div class="t " style="left:105.80px;top:1313.09px;font-size:23px;line-height:27.60px;color:#0c0c0c;transform:scaleX(0.9921)">Intitute of Agro Industry and Environment</div>
<div class="r" style="left:51.15px;top:1342.45px;width:47.70px;height:19.90px;background:#ffffff"></div>
<div class="r" style="left:101.75px;top:1342.45px;width:554.60px;height:19.90px;background:#ffffff"></div>
<div class="r" style="left:659.25px;top:1342.45px;width:117.60px;height:19.90px;background:#ffffff"></div>
<div class="r" style="left:779.75px;top:1342.45px;width:120.20px;height:19.90px;background:#ffffff"></div>
<div class="r" style="left:902.85px;top:1342.45px;width:110.30px;height:19.90px;background:#ffffff"></div>
<div class="r" style="left:1016.05px;top:1342.45px;width:113.80px;height:19.90px;background:#ffffff"></div>
<div class="t " style="left:71.27px;top:1343.66px;font-size:17.0px;line-height:20.40px;color:#0c0c0c;transform:scaleX(1.0000)">1</div>
<div class="t " style="left:104.40px;top:1343.86px;font-size:16.0px;line-height:19.20px;color:#0c0c0c;transform:scaleX(0.9955)">BS Agri. Business (Group-A)</div>
<div class="t " style="left:670.10px;top:1341.99px;font-size:19.6px;line-height:23.52px;color:#0c0c0c;transform:scaleX(0.9951)">Rs.25000/-</div>
<div class="t " style="left:791.90px;top:1341.99px;font-size:19.6px;line-height:23.52px;color:#0c0c0c;transform:scaleX(0.9951)">Rs.30000/-</div>
<div class="t " style="left:910.05px;top:1341.99px;font-size:19.6px;line-height:23.52px;color:#0c0c0c;transform:scaleX(0.9951)">Rs.35000/-</div>
<div class="t " style="left:1025.00px;top:1341.99px;font-size:19.6px;line-height:23.52px;color:#0c0c0c;transform:scaleX(0.9951)">Rs.40000/-</div>
<div class="r" style="left:51.15px;top:1365.25px;width:47.70px;height:24.40px;background:#ffffff"></div>
<div class="r" style="left:101.75px;top:1365.25px;width:554.60px;height:24.40px;background:#ffffff"></div>
<div class="r" style="left:659.25px;top:1365.25px;width:117.60px;height:24.40px;background:#ffffff"></div>
<div class="r" style="left:779.75px;top:1365.25px;width:120.20px;height:24.40px;background:#ffffff"></div>
<div class="r" style="left:902.85px;top:1365.25px;width:110.30px;height:24.40px;background:#ffffff"></div>
<div class="r" style="left:1016.05px;top:1365.25px;width:113.80px;height:24.40px;background:#ffffff"></div>
<div class="t " style="left:71.27px;top:1368.71px;font-size:17.0px;line-height:20.40px;color:#0c0c0c;transform:scaleX(1.0000)">2</div>
<div class="t " style="left:104.40px;top:1368.91px;font-size:16.0px;line-height:19.20px;color:#0c0c0c;transform:scaleX(1.0301)">BS Environmental Sciences (Group-A)</div>
<div class="t " style="left:670.10px;top:1367.04px;font-size:19.6px;line-height:23.52px;color:#0c0c0c;transform:scaleX(0.9951)">Rs.25000/-</div>
<div class="t " style="left:791.90px;top:1367.04px;font-size:19.6px;line-height:23.52px;color:#0c0c0c;transform:scaleX(0.9951)">Rs.30000/-</div>
<div class="t " style="left:910.05px;top:1367.04px;font-size:19.6px;line-height:23.52px;color:#0c0c0c;transform:scaleX(0.9951)">Rs.35000/-</div>
<div class="t " style="left:1025.00px;top:1367.04px;font-size:19.6px;line-height:23.52px;color:#0c0c0c;transform:scaleX(0.9951)">Rs.40000/-</div>
<div class="t " style="left:513.80px;top:1430.63px;font-size:19.3px;line-height:23.16px;color:#262626;font-weight:400;transform:scaleX(1.0190)">Page 1 of 4</div>
</div></body></html>
